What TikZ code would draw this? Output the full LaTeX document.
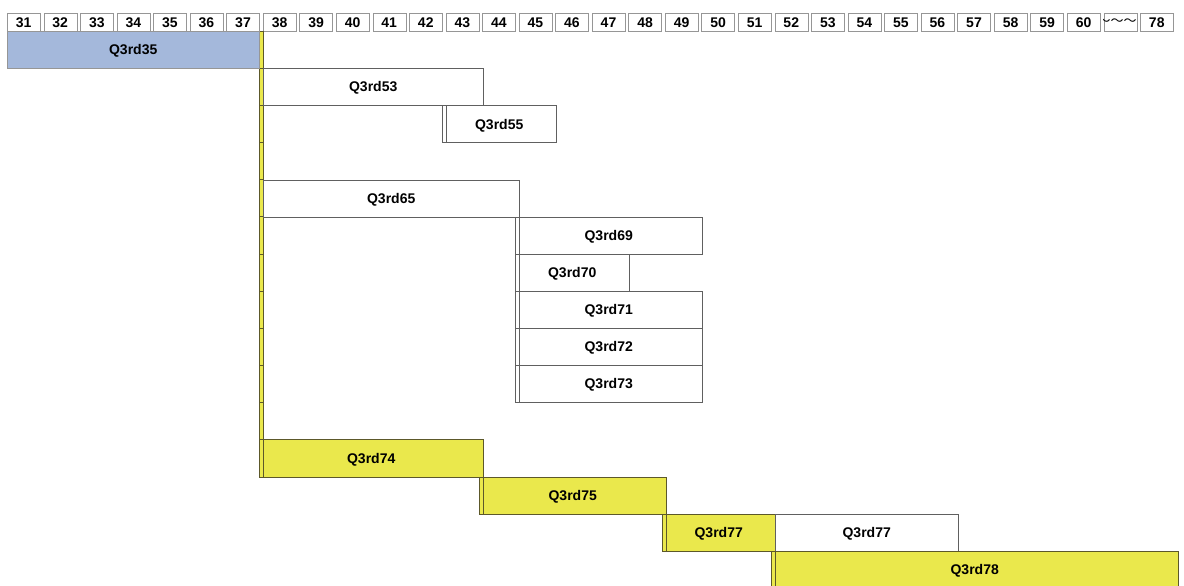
\documentclass[tikz,border=0pt]{standalone}
\usepackage{fontspec}
\setmainfont{Liberation Sans}
\newfontfamily\jpfont{Noto Sans CJK JP}
\usepackage{tikz}
\usetikzlibrary{positioning}

\definecolor{barblue}{RGB}{164,184,219}
\definecolor{baryellow}{RGB}{234,232,76}
\definecolor{yedge}{RGB}{92,88,42}
\definecolor{tgray}{RGB}{96,96,96}
\definecolor{hgray}{RGB}{150,150,150}

\tikzset{
  hcell/.style={draw=hgray, minimum width=33pt, minimum height=18pt, inner sep=0pt,
    text height=10pt, text depth=0pt,
    anchor=north west, font=\fontsize{14}{14}\selectfont\bfseries},
  task/.style={draw=tgray, minimum height=37.13pt, inner sep=0pt, anchor=north west,
    text height=10pt, text depth=0pt,
    font=\fontsize{14}{14}\selectfont\bfseries},
  ytask/.style={task, fill=baryellow, draw=yedge},
  btask/.style={task, fill=barblue, draw=hgray},
  lead/.style={path picture={\draw[#1] ([xshift=4pt]path picture bounding box.north west)
    -- ([xshift=4pt]path picture bounding box.south west);}},
  lead/.default=tgray
}

\begin{document}
\begin{tikzpicture}[x=1pt,y=-1pt]
\useasboundingbox (0,0) rectangle (1184,586);
%%Header
\foreach \n [count=\i from 0] in {31,...,60}
  \node[hcell] (h\n) at ({7+36.55*\i},13) {\n};
\node[hcell] (htilde) at ({7+36.55*30},13) {};
\node[hcell] (h78) at ({7+36.55*31},13) {78};
\begin{scope}
\clip (htilde.south west) rectangle (htilde.north east);
\node[anchor=east, inner sep=0pt, font=\jpfont\fontsize{13}{13}\selectfont] (tl) at (htilde.east) {～～～};
\end{scope}

%%Critical path
\foreach \r in {0,...,10}
  \draw[fill=baryellow, draw=yedge] (259,{31+37.13*\r}) rectangle +(4,37.13);

%%Tasks
\node[btask, minimum width=252pt] (q35) at (7,31) {Q3rd35};
\node[task, minimum width=220pt] (q53) at (263,68.13) {Q3rd53};
\node[task, lead, minimum width=114pt] (q55) at (442,105.26) {Q3rd55};
\node[task, minimum width=256pt] (q65) at (263,179.52) {Q3rd65};
\node[task, lead, minimum width=187pt] (q69) at (515,216.65) {Q3rd69};
\node[task, lead, minimum width=114pt] (q70) at (515,253.78) {Q3rd70};
\node[task, lead, minimum width=187pt] (q71) at (515,290.91) {Q3rd71};
\node[task, lead, minimum width=187pt] (q72) at (515,328.04) {Q3rd72};
\node[task, lead, minimum width=187pt] (q73) at (515,365.17) {Q3rd73};
\node[ytask, lead=yedge, minimum width=224pt] (q74) at (259,439.43) {Q3rd74};
\node[ytask, lead=yedge, minimum width=187pt] (q75) at (479,476.56) {Q3rd75};
\node[ytask, lead=yedge, minimum width=113pt] (q77a) at (662,513.69) {Q3rd77};
\node[task, minimum width=183pt] (q77b) at (775,513.69) {Q3rd77};
\node[ytask, lead=yedge, minimum width=407pt] (q78) at (771,550.82) {Q3rd78};
\end{tikzpicture}
\end{document}
